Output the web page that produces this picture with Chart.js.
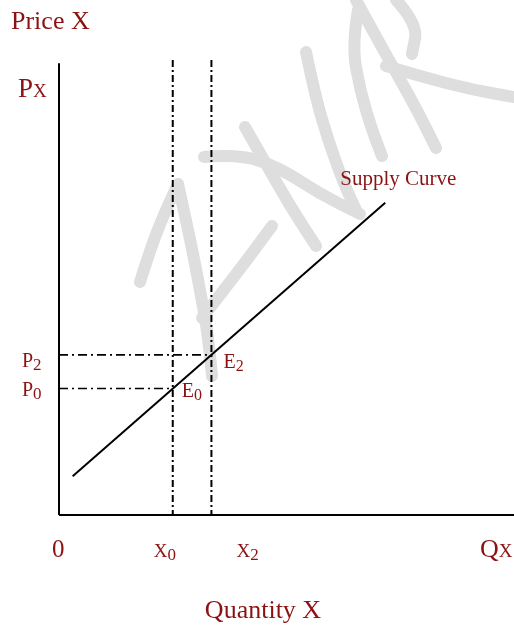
<!DOCTYPE html>
<html>
<head>
<meta charset="utf-8">
<script src="https://cdn.jsdelivr.net/npm/chart.js@4.4.1/dist/chart.umd.min.js"></script>
<style>
  html, body { margin: 0; padding: 0; background: #fff; }
  #wrap { width: 514px; height: 627px; position: relative; }
</style>
</head>
<body>
<div id="wrap"><canvas id="supply"></canvas></div>
<script>
// supply curve: straight line between two (quantity, price) points
const supplyQty = [3, 71.7];
const supplyPrice = [8.5, 68.6];

// equilibria E0 and E2 on the supply curve
const eqSubs = ['0', '2'];
const eqQty = [25, 33.5];
const eqPrice = [27.8, 35.2];

// axis extents
const qtyMax = 100;
const priceMax = 100;
const priceAxisTop = 99.3;

const RED = '#8b1212';
const SERIF = '"Liberation Serif", "Times New Roman", serif';

const pts = (xs, ys) => xs.map((x, i) => ({ x: x, y: ys[i] }));

const datasets = [
  // axes
  { data: [{ x: 0, y: 0 }, { x: 0, y: priceAxisTop }], borderWidth: 2 },
  { data: [{ x: 0, y: 0 }, { x: qtyMax, y: 0 }], borderWidth: 2 },
  // supply curve
  { data: pts(supplyQty, supplyPrice), borderWidth: 2 }
];

// dash-dot guides through each equilibrium
eqQty.forEach((q, i) => {
  datasets.push({
    data: [{ x: q, y: priceMax }, { x: q, y: 0 }],
    borderWidth: 2,
    borderDash: [7, 3, 2, 3]
  });
  datasets.push({
    data: [{ x: 0, y: eqPrice[i] }, { x: q, y: eqPrice[i] }],
    borderWidth: 1.6,
    borderDash: [9, 4, 2, 4]
  });
});

datasets.forEach(d => {
  d.borderColor = '#000';
  d.pointRadius = 0;
  d.clip = false;
  d.tension = 0;
});

function subText(ctx, base, sub, x, y, size, subSize, drop) {
  ctx.font = size + 'px ' + SERIF;
  ctx.fillText(base, x, y);
  const w = ctx.measureText(base).width;
  ctx.font = subSize + 'px ' + SERIF;
  ctx.fillText(sub, x + w, y + drop);
}

// hand-written "AMP" stamp behind the plot, as brush strokes in canvas pixels
const stampStrokes = [
  [[140, 282], [150, 250], [164, 214], [178, 184]],
  [[178, 184], [190, 238], [200, 290], [208, 335], [212, 376]],
  [[204, 157], [240, 154], [280, 168], [320, 194], [360, 214]],
  [[245, 127], [265, 162], [290, 206], [316, 246]],
  [[202, 318], [238, 272], [272, 226]],
  [[306, 52], [315, 95], [328, 140], [344, 184], [356, 210]],
  [[358, 10], [352, 45], [360, 90], [372, 130], [382, 156]],
  [[356, 0], [386, 55], [414, 104], [436, 148]],
  [[386, 66], [430, 79], [474, 90], [514, 97]],
  [[396, 0], [418, 24], [412, 54]]
];

const watermark = {
  id: 'watermark',
  beforeDatasetsDraw(chart) {
    const ctx = chart.ctx;
    ctx.save();
    ctx.strokeStyle = '#dedede';
    ctx.lineWidth = 12;
    ctx.lineCap = 'round';
    ctx.lineJoin = 'round';
    stampStrokes.forEach(s => {
      ctx.beginPath();
      ctx.moveTo(s[0][0], s[0][1]);
      for (let i = 1; i < s.length - 1; i++) {
        const mx = (s[i][0] + s[i + 1][0]) / 2, my = (s[i][1] + s[i + 1][1]) / 2;
        ctx.quadraticCurveTo(s[i][0], s[i][1], mx, my);
      }
      const last = s[s.length - 1];
      ctx.lineTo(last[0], last[1]);
      ctx.stroke();
    });
    ctx.restore();
  }
};

const labels = {
  id: 'labels',
  afterDatasetsDraw(chart) {
    const ctx = chart.ctx;
    const xs = chart.scales.x, ys = chart.scales.y;
    const x0 = xs.getPixelForValue(0), y0 = ys.getPixelForValue(0);
    ctx.save();
    ctx.fillStyle = RED;
    ctx.textBaseline = 'alphabetic';
    ctx.textAlign = 'left';

    // axis titles
    ctx.font = '26px ' + SERIF;
    ctx.fillText('Price X', 11, 29);
    ctx.textAlign = 'center';
    ctx.fillText('Quantity X', 263, 618);
    ctx.textAlign = 'left';

    // axis ends
    subText(ctx, 'P', 'X', 18, 97, 27, 19, 0);
    subText(ctx, 'Q', 'X', xs.right - 34, y0 + 42, 26, 19, 0);
    ctx.font = '25px ' + SERIF;
    ctx.fillText('0', x0 - 7, y0 + 42);

    // price and quantity markers
    eqQty.forEach((q, i) => {
      const px = xs.getPixelForValue(q);
      const py = ys.getPixelForValue(eqPrice[i]);
      subText(ctx, 'P', eqSubs[i], 22, py + (i ? 12 : 7), 20, 17, 3);
      subText(ctx, 'E', eqSubs[i], px + (i ? 12 : 9), py + (i ? 13 : 8), 20, 16, 3);
      subText(ctx, 'X', eqSubs[i], px + (i ? 25 : -19), y0 + 42, 19, 17, 3);
    });

    // curve name near the upper end
    const ex = xs.getPixelForValue(supplyQty[1]);
    const ey = ys.getPixelForValue(supplyPrice[1]);
    ctx.font = '21px ' + SERIF;
    ctx.fillText('Supply Curve', ex - 45, ey - 18);
    ctx.restore();
  }
};

new Chart(document.getElementById('supply'), {
  type: 'line',
  data: { datasets: datasets },
  options: {
    responsive: true,
    maintainAspectRatio: false,
    animation: false,
    layout: { padding: { left: 59, right: 0, top: 60, bottom: 112 } },
    plugins: { legend: { display: false }, tooltip: { enabled: false } },
    scales: {
      x: { type: 'linear', min: 0, max: qtyMax, display: false },
      y: { type: 'linear', min: 0, max: priceMax, display: false }
    }
  },
  plugins: [watermark, labels]
});
</script>
</body>
</html>
